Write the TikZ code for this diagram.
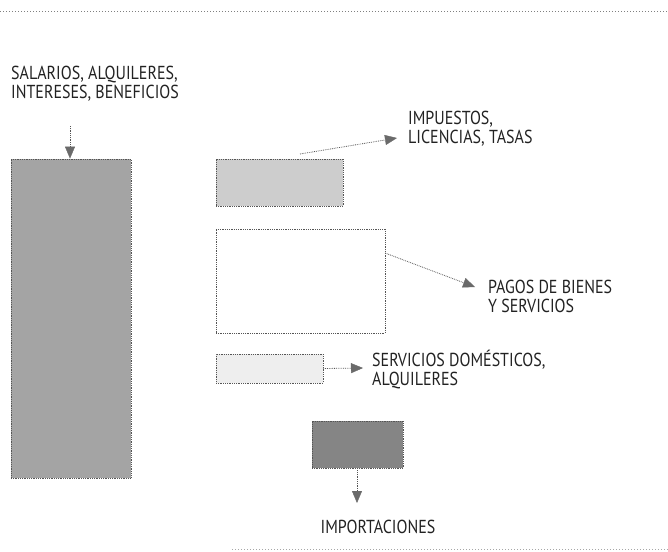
\documentclass[tikz,border=0pt]{standalone}
\usepackage{fontspec}
\setmainfont[FakeStretch=0.85]{PT Sans}
\usetikzlibrary{arrows.meta}
\definecolor{lineg}{HTML}{555555}
\definecolor{tipg}{HTML}{6A6A6A}
\definecolor{bigfill}{HTML}{A4A4A4}
\definecolor{lightfill}{HTML}{CDCDCD}
\definecolor{palefill}{HTML}{EEEEEE}
\definecolor{darkfill}{HTML}{858585}
\definecolor{txt}{HTML}{222222}
\tikzset{
  box/.style={draw=lineg, densely dotted, line width=0.8pt, rectangle, inner sep=0pt},
  lbl/.style={align=left, anchor=west, inner sep=0pt, text=txt, font=\fontsize{18.8}{19}\selectfont},
  flow/.style={draw=lineg, densely dotted, line width=0.8pt,
    -{Triangle[length=12pt,width=10pt,color=tipg,fill=tipg,line width=0.4pt]}},
  rule/.style={draw=gray, dotted, line width=1pt}
}
\begin{document}
\begin{tikzpicture}[x=1pt,y=-1pt]
\useasboundingbox (0,0) rectangle (668,551);
% rules
\coordinate (rl1) at (0,12);
\coordinate (rr1) at (668,12);
\draw[rule] (rl1) -- (rr1);
\coordinate (rl2) at (232,549);
\coordinate (rr2) at (668,549);
\draw[rule, gray!70] (rl2) -- (rr2);
% boxes
\node[box, fill=bigfill, minimum width=120pt, minimum height=319pt] (big) at (71,318.5) {};
\node[box, fill=lightfill, minimum width=127pt, minimum height=47pt] (tax) at (279.5,182.5) {};
\node[box, fill=white, minimum width=169pt, minimum height=104pt] (pay) at (300.5,281) {};
\node[box, fill=palefill, minimum width=107pt, minimum height=29pt] (dom) at (269.5,368.5) {};
\node[box, fill=darkfill, minimum width=91pt, minimum height=47pt] (imp) at (357.5,444.5) {};
% texts
\node[lbl] (sal) at (11,84) {SALARIOS, ALQUILERES,\\INTERESES, BENEFICIOS};
\node[lbl] (taxt) at (408,129) {IMPUESTOS,\\LICENCIAS, TASAS};
\node[lbl] (payt) at (488,296) {PAGOS DE BIENES\\Y SERVICIOS};
\node[lbl] (domt) at (372,369.5) {SERVICIOS DOMÉSTICOS,\\ALQUILERES};
\node[lbl, anchor=center] (impt) at (378,527) {IMPORTACIONES};
% connectors
\coordinate (s1) at (70,126);
\draw[flow] (s1) -- (s1 |- big.north);
\coordinate (t1s) at (300,154);
\coordinate (t1e) at (397,138);
\draw[flow] (t1s) -- (t1e);
\coordinate (p1s) at (385,253);
\coordinate (p1e) at (475,287);
\draw[flow] (p1s) -- (p1e);
\coordinate (d1e) at (363,368);
\draw[flow] (dom.east) -- (d1e);
\coordinate (i1e) at (357,503);
\draw[flow] (imp.south -| i1e) -- (i1e);
\end{tikzpicture}
\end{document}
